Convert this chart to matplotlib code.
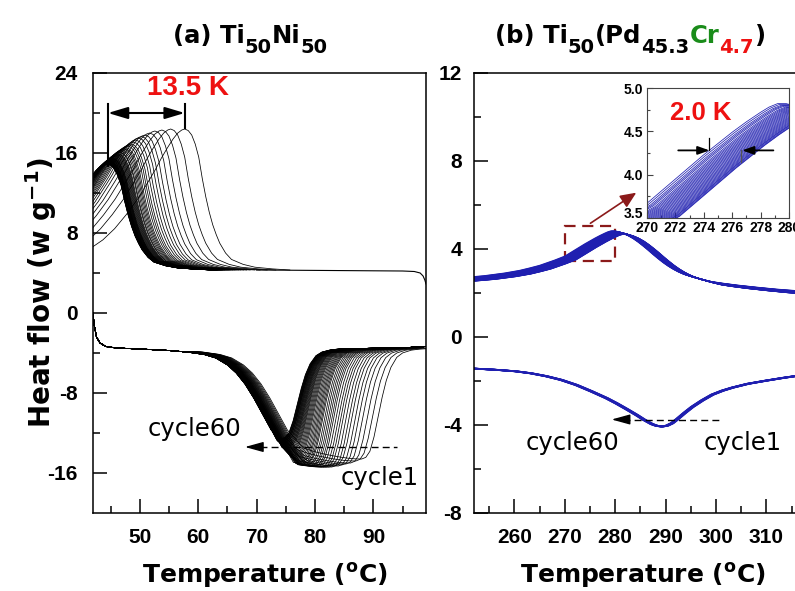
import numpy as np
import matplotlib
matplotlib.use("Agg")
from matplotlib import pyplot as plt
from matplotlib.patches import Rectangle

plt.rcParams["font.family"] = "Liberation Sans"
plt.rcParams["font.weight"] = "bold"
plt.rcParams["axes.unicode_minus"] = False
plt.rcParams["mathtext.fontset"] = "custom"
plt.rcParams["mathtext.rm"] = "DejaVu Sans:bold"
plt.rcParams["mathtext.default"] = "rm"

# ---- (a) Ti50Ni50, cooling branch (exothermic peaks, upper curves) ----
cool_peak_T = [57.7, 55.3, 53.8, 52.6, 51.7, 50.9, 50.3, 49.8, 49.3, 48.9,
               48.5, 48.2, 47.9, 47.6, 47.4, 47.2, 47.0, 46.8, 46.6, 46.5,
               46.3, 46.2, 46.1, 46.0, 45.9, 45.8, 45.7, 45.6, 45.5, 45.4,
               45.35, 45.3, 45.25, 45.2, 45.15, 45.1, 45.05, 45.0, 44.95, 44.9,
               44.87, 44.84, 44.81, 44.78, 44.75, 44.72, 44.69, 44.66, 44.63, 44.6,
               44.58, 44.56, 44.54, 44.52, 44.5, 44.48, 44.46, 44.44, 44.42, 44.4]
cool_peak_h = [18.4, 18.4, 18.3, 18.2, 18.0, 17.8, 17.65, 17.5, 17.3, 17.1,
               16.9, 16.8, 16.7, 16.55, 16.45, 16.4, 16.3, 16.2, 16.1, 16.05,
               15.95, 15.9, 15.85, 15.8, 15.75, 15.7, 15.65, 15.6, 15.55, 15.5,
               15.47, 15.44, 15.41, 15.38, 15.35, 15.32, 15.29, 15.26, 15.23, 15.2,
               15.18, 15.16, 15.14, 15.12, 15.1, 15.08, 15.06, 15.04, 15.02, 15.0,
               14.99, 14.98, 14.97, 14.96, 14.95, 14.94, 14.93, 14.92, 14.91, 14.9]
cool_dT = [-16, -14, -12, -10, -8, -6, -5, -4, -3, -2, -1.2, -0.5, 0, 0.6, 1.2,
           1.8, 2.4, 3, 3.6, 4.2, 4.8, 5.4, 6, 7, 8, 10, 12, 15, 18]
cool_frac = [0.157, 0.214, 0.293, 0.393, 0.507, 0.643, 0.714, 0.793, 0.864, 0.929,
             0.971, 0.993, 1.0, 0.989, 0.957, 0.893, 0.8, 0.65, 0.52, 0.41, 0.32,
             0.25, 0.19, 0.12, 0.075, 0.04, 0.02, 0.008, 0.0]
cool_base = 4.3
cool_tail_T = [70, 75, 80, 85, 90, 95, 97, 98, 98.5, 98.8, 99]
cool_tail_y = [4.3, 4.28, 4.26, 4.24, 4.22, 4.2, 4.15, 4.0, 3.7, 3.3, 2.9]

# ---- (a) heating branch (endothermic dips, lower curves) ----
heat_min_T = [88.0, 87.0, 86.1, 85.3, 84.6, 84.0, 83.4, 82.9, 82.4, 81.9,
              81.5, 81.1, 80.7, 80.3, 80.0, 79.7, 79.4, 79.1, 78.8, 78.5,
              78.3, 78.1, 77.9, 77.7, 77.5, 77.3, 77.1, 76.9, 76.75, 76.6,
              76.45, 76.3, 76.15, 76.0, 75.9, 75.8, 75.7, 75.6, 75.5, 75.4,
              75.32, 75.24, 75.16, 75.08, 75.0, 74.93, 74.86, 74.79, 74.72, 74.65,
              74.6, 74.55, 74.5, 74.45, 74.4, 74.35, 74.3, 74.25, 74.2, 74.15]
heat_min_y = [-14.6, -14.8, -15.0, -15.1, -15.2, -15.3, -15.3, -15.4, -15.4, -15.4,
              -15.4, -15.4, -15.3, -15.3, -15.3, -15.2, -15.2, -15.1, -15.1, -15.0,
              -15.0, -14.9, -14.8, -14.8, -14.7, -14.6, -14.5, -14.4, -14.3, -14.2,
              -14.1, -14.0, -13.9, -13.8, -13.7, -13.6, -13.5, -13.4, -13.3, -13.3,
              -13.2, -13.2, -13.1, -13.1, -13.0, -13.0, -12.9, -12.9, -12.9, -12.8,
              -12.8, -12.8, -12.7, -12.7, -12.7, -12.7, -12.6, -12.6, -12.6, -12.6]
heat_flat_T = [42.0, 42.2, 42.6, 43.2, 44.2, 46, 50, 55, 58]
heat_flat_y = [0.0, -1.2, -2.4, -3.0, -3.35, -3.5, -3.6, -3.75, -3.9]
heat_drop_T = [58, 61, 63, 65, 66.5, 68, 69.5, 71, 72.5, 74, 76, 78]
heat_drop_y = [-3.9, -4.15, -4.5, -5.2, -6.0, -7.1, -8.5, -10.1, -11.7, -13.4, -15.6, -17.8]
heat_dT = [-16, -14, -12, -10, -8, -6, -4, -3, -2, -1, 0, 0.7, 1.4, 2.1, 2.8,
           3.5, 4.2, 5, 6, 7, 8.5, 10, 12]
heat_frac = [0.74, 0.8, 0.855, 0.9, 0.935, 0.96, 0.98, 0.988, 0.995, 0.999, 1.0,
             0.985, 0.93, 0.8, 0.62, 0.44, 0.29, 0.17, 0.08, 0.04, 0.015, 0.005, 0.0]
heat_base = -3.55
heat_tail_T = [88, 92, 96, 99]
heat_tail_y = [-3.55, -3.5, -3.45, -3.35]

# ---- (b) Ti50(Pd45.3Cr4.7) ----
b_cool_T = [250, 254, 258, 261, 263, 265, 267, 268, 269, 270, 271, 272, 273, 274,
            275, 276, 277, 278, 278.6, 279.2, 279.8, 280.5, 281.5, 282.5, 283.5,
            284.5, 285.5, 286.5, 287.5, 288.5, 289.5, 290.5, 291.5, 292.5, 293.5,
            295, 297, 299, 301, 304, 308, 312, 316, 320]
b_cool_y = [2.70, 2.78, 2.90, 3.02, 3.13, 3.25, 3.41, 3.49, 3.58, 3.67, 3.81, 3.95,
            4.09, 4.23, 4.36, 4.49, 4.61, 4.72, 4.78, 4.82, 4.82, 4.79, 4.72, 4.62,
            4.49, 4.33, 4.15, 3.96, 3.76, 3.57, 3.39, 3.23, 3.09, 2.97, 2.87, 2.76,
            2.63, 2.52, 2.45, 2.36, 2.26, 2.17, 2.10, 2.06]
b_cool_shift = [0.0, 0.12, 0.24, 0.35, 0.45, 0.55, 0.65, 0.74, 0.83, 0.92,
                1.0, 1.08, 1.16, 1.24, 1.32, 1.4, 1.48, 1.56, 1.63, 1.7,
                1.77, 1.84, 1.91, 1.97, 2.03, 2.09, 2.15, 2.2, 2.25, 2.3]
b_cool_drop = [0.0, -0.01, -0.02, -0.025, -0.03, -0.04, -0.045, -0.05, -0.055, -0.06,
               -0.065, -0.07, -0.075, -0.08, -0.085, -0.09, -0.095, -0.1, -0.105, -0.11,
               -0.115, -0.12, -0.125, -0.13, -0.135, -0.14, -0.14, -0.145, -0.15, -0.15]
b_heat_T = [250, 252, 256, 260, 263, 266, 269, 272, 275, 278, 280, 282, 284, 285.5,
            287, 288, 289, 290, 291, 292, 293.5, 295, 297, 299, 301, 303, 306, 309.5,
            313, 316, 320]
b_heat_y = [-1.42, -1.44, -1.49, -1.56, -1.65, -1.78, -1.95, -2.18, -2.47, -2.78,
            -3.02, -3.28, -3.55, -3.77, -3.96, -4.04, -4.07, -4.03, -3.92, -3.74,
            -3.45, -3.18, -2.88, -2.62, -2.44, -2.30, -2.13, -1.99, -1.86, -1.76, -1.66]
b_heat_shift = [0.0, 0.07, 0.14, 0.2, 0.27, 0.33, 0.4, 0.46, 0.53, 0.6]

BLUE = "#1f1fb0"
DARKRED = "#8b1a1a"
RED = "#ee1111"
GREEN = "#1a8c1a"
W, H = 795, 591

fig = plt.figure(figsize=(W / 100, H / 100), dpi=100)
ax1 = fig.add_axes([93 / W, 78 / H, 333 / W, 440 / H])
ax2 = fig.add_axes([474 / W, 78 / H, 342.7 / W, 440 / H])

# --- panel (a) ---
for tp, h in zip(cool_peak_T, cool_peak_h):
    T = tp + np.array(cool_dT)
    y = cool_base + np.array(cool_frac) * (h - cool_base)
    ax1.plot(T, y, color="k", lw=0.55)
ax1.plot(cool_tail_T, cool_tail_y, color="k", lw=0.8)

for tm, dep in zip(heat_min_T, heat_min_y):
    s = 0.2 * (tm - heat_min_T[-1])
    dT = np.array(heat_drop_T) + s
    dy = np.array(heat_drop_y)
    pT = tm + np.array(heat_dT)
    py = heat_base + np.array(heat_frac) * (dep - heat_base)
    keep_drop = dy >= np.interp(dT, pT, py, left=-99, right=-99)
    keep_dip = py > np.interp(pT, dT, dy, left=dy[0], right=-99)
    tT = np.array(heat_tail_T)
    keep_tail = tT > pT[-1]
    T = np.concatenate([heat_flat_T, dT[keep_drop], pT[keep_dip], tT[keep_tail]])
    y = np.concatenate([heat_flat_y, dy[keep_drop], py[keep_dip],
                        np.array(heat_tail_y)[keep_tail]])
    order = np.argsort(T, kind="stable")
    ax1.plot(T[order], y[order], color="k", lw=0.55)

ax1.set_xlim(42, 99)
ax1.set_ylim(-20, 24)
ax1.set_xticks([50, 60, 70, 80, 90])
ax1.set_xticks([45, 55, 65, 75, 85, 95], minor=True)
ax1.set_yticks([-16, -8, 0, 8, 16, 24])
ax1.set_yticks([-12, -4, 4, 12, 20], minor=True)
ax1.tick_params(axis="both", which="major", labelsize=15, pad=11)

# 13.5 K marker
ax1.plot([44.56, 44.56], [14.7, 20.9], color="k", lw=1.5)
ax1.plot([57.7, 57.7], [18.5, 20.9], color="k", lw=1.5)
ax1.annotate("", xy=(44.56, 20.0), xytext=(57.7, 20.0),
             arrowprops=dict(arrowstyle="<|-|>,head_length=0.6,head_width=0.18",
                             mutation_scale=20, color="k", lw=1.5,
                             shrinkA=0, shrinkB=0))
ax1.text(58.2, 22.5, "13.5 K", color=RED, fontsize=20, ha="center", va="center")

ax1.plot([70.5, 94.1], [-13.4, -13.4], color="k", lw=1, ls=(0, (5, 3)))
ax1.annotate("", xy=(68, -13.4), xytext=(71, -13.4),
             arrowprops=dict(arrowstyle="-|>,head_length=0.8,head_width=0.22",
                             mutation_scale=14, color="k", lw=1,
                             shrinkA=0, shrinkB=0))
ax1.text(59.4, -12.3, "cycle60", fontsize=17.5, family="DejaVu Sans",
         weight="normal", ha="center", va="baseline")
ax1.text(91.0, -17.2, "cycle1", fontsize=17.5, family="DejaVu Sans",
         weight="normal", ha="center", va="baseline")

ax1.set_xlabel(r"Temperature ($^{o}$C)", fontsize=18, family="DejaVu Sans",
               weight="bold")
ax1.xaxis.set_label_coords(0.516, -0.109)
ax1.set_ylabel(r"Heat flow (w g$^{-1}$)", fontsize=20, family="DejaVu Sans",
               weight="bold")
ax1.yaxis.set_label_coords(-0.102, 0.5)

# --- panel (b) ---
for sh, dr in zip(b_cool_shift, b_cool_drop):
    ax2.plot(np.array(b_cool_T) + sh, np.array(b_cool_y) + dr, color=BLUE, lw=0.9)
for sh in b_heat_shift:
    ax2.plot(np.array(b_heat_T) + sh, b_heat_y, color=BLUE, lw=1.2)

ax2.set_xlim(252, 320)
ax2.set_ylim(-8, 12)
ax2.set_xticks([260, 270, 280, 290, 300, 310])
ax2.set_xticks([255, 265, 275, 285, 295, 305, 315], minor=True)
ax2.set_yticks([-8, -4, 0, 4, 8, 12])
ax2.set_yticks([-6, -2, 2, 6, 10], minor=True)
ax2.tick_params(axis="both", which="major", labelsize=15)
ax2.tick_params(axis="x", which="major", pad=11)
ax2.tick_params(axis="y", which="major", pad=8.5)

ax2.add_patch(Rectangle((270, 3.45), 10, 1.6, fill=False, edgecolor=DARKRED,
                        lw=1.6, ls=(0, (5, 3))))
ax2.annotate("", xy=(284.2, 6.56), xytext=(275.1, 5.17),
             arrowprops=dict(arrowstyle="-|>,head_length=0.8,head_width=0.35",
                             mutation_scale=12, color=DARKRED, lw=1.2,
                             shrinkA=0, shrinkB=0))

ax2.plot([281.5, 301.5], [-3.75, -3.75], color="k", lw=1, ls=(0, (5, 3)))
ax2.annotate("", xy=(279.3, -3.75), xytext=(282, -3.75),
             arrowprops=dict(arrowstyle="-|>,head_length=0.8,head_width=0.22",
                             mutation_scale=14, color="k", lw=1,
                             shrinkA=0, shrinkB=0))
ax2.text(271.6, -5.15, "cycle60", fontsize=17.5, family="DejaVu Sans",
         weight="normal", ha="center", va="baseline")
ax2.text(305.4, -5.15, "cycle1", fontsize=17.5, family="DejaVu Sans",
         weight="normal", ha="center", va="baseline")
ax2.set_xlabel(r"Temperature ($^{o}$C)", fontsize=18, family="DejaVu Sans",
               weight="bold")
ax2.xaxis.set_label_coords(0.493, -0.109)

for ax in (ax1, ax2):
    for sp in ax.spines.values():
        sp.set_linewidth(1.1)
    ax.tick_params(which="both", direction="in", top=False, right=False, width=1.1)
    ax.tick_params(which="major", length=10)
    ax.tick_params(which="minor", length=5)

# --- inset ---
axi = fig.add_axes([647 / W, (H - 218) / H, 142 / W, 130 / H])
for sh, dr in zip(b_cool_shift, b_cool_drop):
    axi.plot(np.array(b_cool_T) + sh, np.array(b_cool_y) + dr, color=BLUE, lw=0.55)
axi.set_xlim(270, 280)
axi.set_ylim(3.5, 5.0)
axi.set_xticks([270, 272, 274, 276, 278, 280])
axi.set_xticks([271, 273, 275, 277, 279], minor=True)
axi.set_yticks([3.5, 4.0, 4.5, 5.0])
axi.set_yticks([3.75, 4.25, 4.75], minor=True)
axi.yaxis.set_major_formatter(matplotlib.ticker.FormatStrFormatter("%.1f"))
axi.tick_params(which="both", direction="in", labelsize=10, color="#444444",
                width=0.8)
axi.tick_params(axis="x", pad=2)
axi.tick_params(axis="y", pad=3)
axi.tick_params(which="major", length=4)
axi.tick_params(which="minor", length=2)
axi.yaxis.get_major_ticks()[0].label1.set_verticalalignment("baseline")
for sp in axi.spines.values():
    sp.set_linewidth(0.8)
    sp.set_color("#444444")

axi.plot([274.4, 274.4], [4.28, 4.42], color="k", lw=0.9)
axi.plot([276.6, 276.6], [4.15, 4.28], color="#555555", lw=0.9)
axi.annotate("", xy=(274.4, 4.28), xytext=(272.2, 4.28),
             arrowprops=dict(arrowstyle="-|>,head_length=0.7,head_width=0.25",
                             mutation_scale=10, color="k", lw=1.3,
                             shrinkA=0, shrinkB=0))
axi.annotate("", xy=(276.7, 4.28), xytext=(278.9, 4.28),
             arrowprops=dict(arrowstyle="-|>,head_length=0.7,head_width=0.25",
                             mutation_scale=10, color="k", lw=1.3,
                             shrinkA=0, shrinkB=0))
axi.text(273.8, 4.71, "2.0 K", color=RED, fontsize=18.5, ha="center", va="center")

# --- titles with coloured, full-size subscripts ---
renderer = fig.canvas.get_renderer()


def formula(x_px, base_px, parts):
    x = x_px
    for s, c, sub in parts:
        yb = base_px + 10 if sub else base_px
        t = fig.text(x / W, (H - yb) / H, s, color=c, family="DejaVu Sans",
                     weight="bold", fontsize=14 if sub else 17.5,
                     ha="left", va="baseline")
        x = t.get_window_extent(renderer).x1


formula(173, 43, [("(a) Ti", "k", False), ("50", "k", True),
                  ("Ni", "k", False), ("50", "k", True)])
formula(495, 43, [("(b) Ti", "k", False), ("50", "k", True),
                  ("(Pd", "k", False), ("45.3", "k", True),
                  ("Cr", GREEN, False), ("4.7", RED, True),
                  (")", "k", False)])

fig.savefig("out.png", dpi=100)
